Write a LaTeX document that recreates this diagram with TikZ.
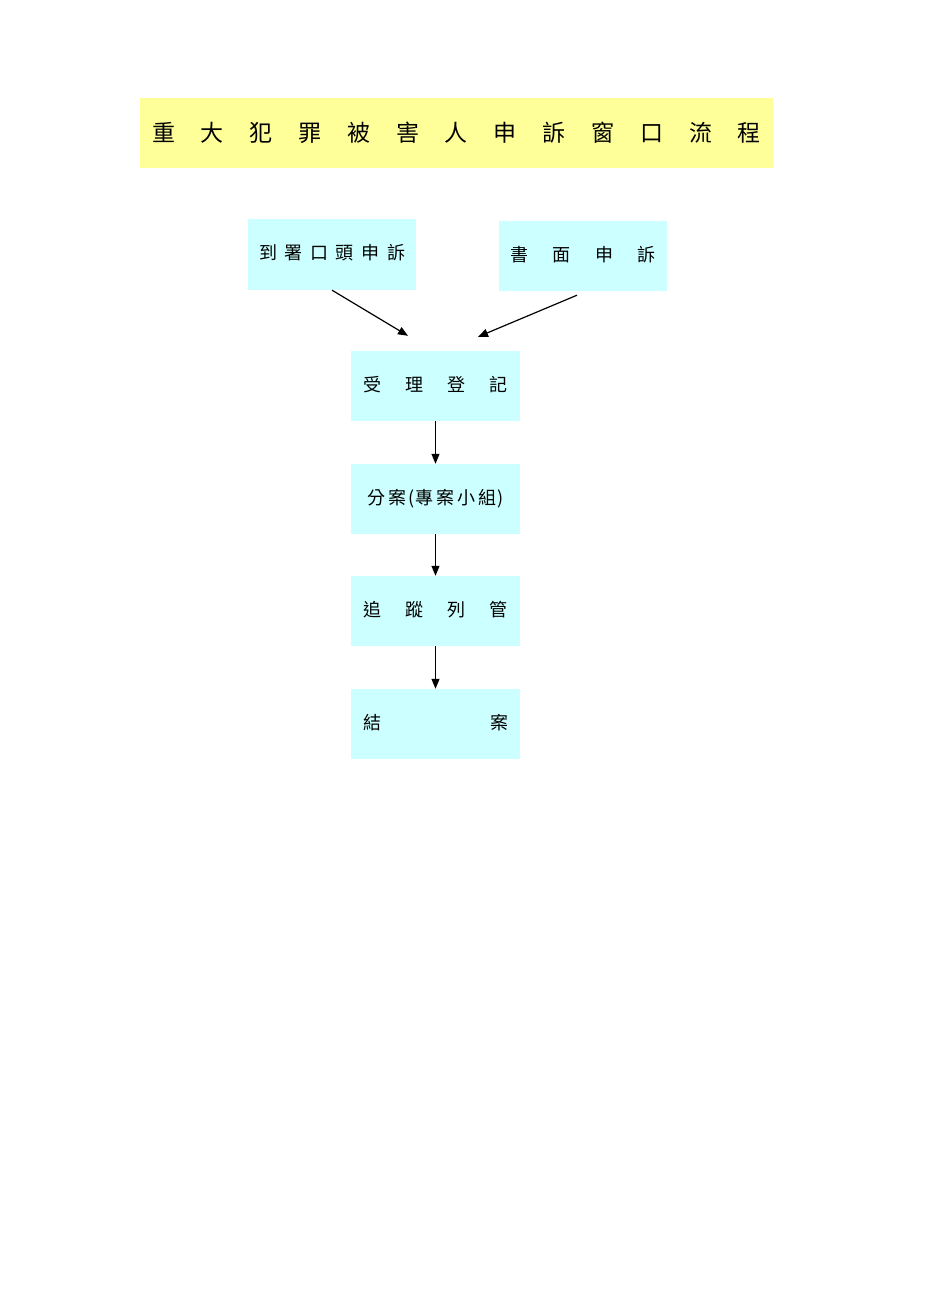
\documentclass[tikz,border=0pt]{standalone}
\usepackage{fontspec}
\newfontfamily\cjk{Noto Sans CJK TC}
\usetikzlibrary{arrows.meta}
\definecolor{titleyellow}{RGB}{255,255,153}
\definecolor{boxcyan}{RGB}{204,255,255}
\newcommand\tg{\hspace{25.8pt}}
\newcommand\ga{\hspace{7.6pt}}
\newcommand\gb{\hspace{24.3pt}}
\tikzset{
  box/.style={fill=boxcyan, minimum width=169pt, minimum height=70pt, inner sep=0pt,
    text height=13pt, text depth=3pt,
    font=\cjk\fontsize{18pt}{18pt}\selectfont},
  titlebox/.style={fill=titleyellow, minimum width=633pt, minimum height=70pt, inner sep=0pt,
    font=\cjk\fontsize{23pt}{23pt}\selectfont},
  arr/.style={-{Triangle[length=10pt,width=8pt]}, line width=1.2pt}
}
\begin{document}
\begin{tikzpicture}[x=1pt,y=-1pt]
\useasboundingbox (0,0) rectangle (930,1316);
\node[titlebox] (t) at (456.5,133) {重\tg 大\tg 犯\tg 罪\tg 被\tg 害\tg 人\tg 申\tg 訴\tg 窗\tg 口\tg 流\tg 程};
\node[box, minimum width=168pt, minimum height=71pt] (b1) at (332,254.5) {到\ga 署\ga 口\ga 頭\ga 申\ga 訴};
\node[box, minimum width=168pt] (b2) at (583,256) {書\gb 面\gb 申\gb 訴};
\node[box] (r) at (435.5,386) {受\gb 理\gb 登\gb 記};
\node[box] (f) at (435.5,499) {分\hspace{3pt}案\hspace{2pt}(\hspace{1pt}專\hspace{3pt}案\hspace{3pt}小\hspace{3pt}組\hspace{1pt})};
\node[box] (g) at (435.5,611) {追\gb 蹤\gb 列\gb 管};
\node[box] (e) at (435.5,724) {結\hspace{109pt}案};
\draw[arr] (b1.south) -- ([xshift=-27.5pt,yshift=15pt]r.north);
\draw[arr] ([xshift=-6pt,yshift=-4pt]b2.south) -- ([xshift=42.5pt,yshift=14pt]r.north);
\draw[arr] (r) -- (f);
\draw[arr] (f) -- (g);
\draw[arr] (g) -- (e);
\end{tikzpicture}
\end{document}
